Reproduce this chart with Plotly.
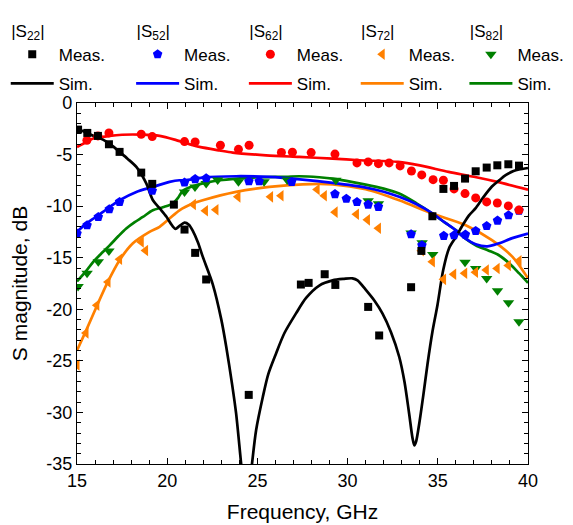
import plotly.graph_objects as go

# ---------------- data ----------------
s22_meas_f = [15.06, 15.57, 16.16, 16.77, 17.36, 18.56, 19.17, 20.37, 20.96, 21.55, 22.16, 24.52,
              27.41, 27.84, 28.73, 29.32, 31.14, 31.75, 33.52, 34.09, 34.7, 35.31, 35.9, 36.51,
              37.1, 37.71, 38.3, 38.91, 39.5]
s22_meas_db = [-2.58, -2.9, -3.19, -4.0, -4.74, -6.75, -7.84, -9.85, -12.27, -14.53, -17.11, -28.3,
               -17.6, -17.44, -16.6, -17.64, -19.77, -22.54, -17.86, -14.34, -10.98, -8.33, -8.04,
               -7.33, -6.62, -6.26, -6.04, -5.94, -6.07]
s22_sim_f = [15.0, 15.5, 16.0, 16.44, 17.0, 17.36, 17.8, 18.29, 18.84, 19.2, 19.58, 19.95, 20.2,
             20.45, 20.7, 20.96, 21.2, 21.42, 21.7, 21.97, 22.53, 23.0, 23.27, 23.6, 23.82, 24.1,
             24.4, 24.7, 24.93, 25.3, 25.6, 26.03, 26.5, 27.14, 27.7, 28.43, 29.17, 29.8, 30.27,
             30.55, 31.0, 31.5, 31.93, 32.4, 32.86, 33.15, 33.41, 33.6, 33.7, 33.8, 33.97, 34.2,
             34.43, 34.7, 34.98, 35.3, 35.62, 36.0, 36.36, 36.73, 37.1, 37.5, 38.0, 38.4, 38.76,
             39.2, 39.5, 40.0]
s22_sim_db = [-2.5, -2.85, -3.25, -3.55, -4.2, -4.74, -5.4, -6.2, -7.8, -9.4, -10.2, -11.0, -11.7,
              -12.2, -11.9, -11.6, -11.8, -12.4, -13.5, -14.9, -17.6, -21.0, -23.6, -27.3, -30.1,
              -35.0, -40.0, -35.0, -31.7, -28.5, -26.3, -24.3, -22.3, -20.4, -18.9, -17.7, -17.2,
              -17.05, -17.0, -17.2, -18.1, -19.2, -20.4, -22.2, -24.6, -27.0, -30.1, -32.5, -33.2,
              -32.8, -31.1, -28.3, -25.3, -22.2, -19.6, -16.2, -14.1, -13.0, -11.9, -10.9, -10.2,
              -9.2, -8.1, -7.5, -7.0, -6.6, -6.45, -6.3]

s52_meas_f = [15.0, 15.56, 16.18, 16.79, 17.36, 19.17, 20.96, 21.55, 22.16, 24.53, 25.1, 26.9,
              29.3, 29.93, 30.52, 31.14, 31.71, 33.52, 34.12, 35.33, 35.9, 36.53, 37.1, 37.71,
              38.31, 38.92, 39.5]
s52_meas_db = [-12.66, -11.85, -11.05, -10.3, -9.59, -8.5, -7.7, -7.38, -7.3, -7.58, -7.58, -7.65,
               -8.83, -9.28, -9.6, -9.85, -10.07, -12.72, -13.8, -12.88, -12.82, -12.75, -12.4,
               -11.92, -11.4, -10.88, -10.43]
s52_sim_f = [15.0, 15.5, 16.0, 16.44, 17.0, 17.36, 18.29, 19.2, 20.13, 20.68, 21.0, 21.97, 23.82,
             25.66, 27.5, 29.17, 31.01, 32.0, 32.86, 33.8, 34.7, 35.4, 35.99, 36.5, 37.1, 37.74,
             38.39, 39.13, 40.0]
s52_sim_db = [-12.5, -11.7, -11.1, -10.56, -9.85, -9.43, -8.62, -8.14, -7.65, -7.49, -7.5, -7.23,
              -7.1, -7.17, -7.43, -7.75, -8.2, -8.6, -9.1, -9.8, -10.7, -11.6, -12.33, -13.1,
              -13.69, -13.9, -13.6, -13.1, -12.66]

s62_meas_f = [15.55, 16.16, 16.77, 18.56, 19.17, 20.96, 21.55, 22.95, 23.95, 24.54, 26.33, 26.94,
              27.98, 29.3, 30.52, 31.14, 31.71, 32.3, 32.91, 33.54, 34.11, 34.74, 35.31, 35.9,
              36.51, 37.1, 37.71, 38.3, 38.91, 39.5]
s62_meas_db = [-3.61, -3.19, -2.9, -3.03, -3.26, -3.74, -3.77, -4.1, -4.49, -4.1, -4.8, -4.77,
               -4.81, -4.95, -5.81, -5.71, -5.88, -5.81, -6.1, -6.59, -6.97, -7.43, -7.49, -8.33,
               -8.78, -9.2, -9.59, -9.69, -9.98, -10.37]
s62_sim_f = [15.0, 15.5, 15.9, 16.81, 17.5, 18.56, 19.58, 20.5, 21.42, 21.79, 22.9, 23.63, 25.48,
             27.32, 29.17, 30.64, 32.8, 34.0, 35.6, 37.0, 38.3, 40.0]
s62_sim_db = [-4.26, -3.8, -3.45, -3.19, -3.08, -3.07, -3.19, -3.6, -4.1, -4.26, -4.6, -4.81,
              -5.07, -5.23, -5.39, -5.55, -5.71, -6.05, -6.68, -7.15, -7.65, -8.4]

s72_meas_f = [15.0, 15.5, 16.1, 16.72, 17.36, 18.56, 18.8, 21.45, 22.12, 22.7, 23.92, 25.73, 26.31,
              28.31, 28.71, 29.31, 30.49, 31.1, 31.71, 34.09, 34.7, 35.32, 35.88, 36.49, 37.09,
              37.69, 38.29, 38.91, 39.5]
s72_meas_db = [-25.4, -22.3, -19.6, -17.35, -15.15, -13.47, -14.3, -9.85, -10.45, -10.35, -9.1,
               -9.1, -8.99, -8.38, -8.99, -10.58, -10.79, -11.33, -12.15, -14.32, -15.4, -17.1,
               -16.6, -16.5, -16.4, -16.2, -16.05, -15.75, -15.3]
s72_sim_f = [15.0, 15.52, 16.07, 16.72, 17.36, 18.1, 19.02, 19.58, 20.13, 20.68, 21.42, 21.97,
             23.82, 25.66, 27.5, 29.17, 31.0, 32.86, 34.7, 36.55, 38.0, 39.13, 40.0]
s72_sim_db = [-24.0, -22.0, -19.8, -17.3, -15.24, -13.6, -12.5, -12.0, -11.2, -10.4, -9.75, -9.43,
              -8.62, -8.14, -7.88, -7.88, -8.36, -9.43, -10.72, -11.85, -13.3, -14.9, -17.0]

s82_meas_f = [15.06, 15.56, 16.18, 16.77, 20.96, 21.54, 22.16, 22.8, 23.95, 25.37, 26.65, 29.35,
              31.14, 31.71, 33.52, 34.13, 34.72, 36.51, 37.1, 37.71, 38.31, 38.92, 39.5]
s82_meas_db = [-17.78, -16.5, -15.4, -14.35, -8.62, -8.14, -7.81, -7.46, -7.64, -7.64, -7.46,
               -7.5, -9.47, -9.78, -12.6, -13.56, -14.68, -15.45, -16.05, -17.02, -18.2, -19.36,
               -21.2]
s82_sim_f = [15.0, 15.5, 15.9, 16.4, 16.81, 17.3, 17.73, 18.2, 18.65, 19.2, 19.76, 20.3, 20.6,
             20.87, 21.6, 22.2, 22.9, 24.74, 26.58, 27.32, 28.43, 29.17, 31.0, 32.0, 32.86, 33.8,
             34.7, 35.4, 36.0, 36.5, 37.1, 37.8, 38.39, 39.0, 39.5, 40.0]
s82_sim_db = [-17.3, -16.3, -15.4, -14.5, -13.8, -12.9, -12.17, -11.55, -11.05, -10.4, -10.1,
              -9.75, -9.2, -8.5, -7.97, -7.7, -7.49, -7.23, -7.15, -7.1, -7.2, -7.33, -7.91, -8.3,
              -8.78, -9.7, -10.72, -11.6, -12.33, -13.1, -13.79, -14.3, -14.76, -15.6, -16.5,
              -17.44]

y_tick_vals = [0, -5, -10, -15, -20, -25, -30, -35]
y_tick_text = ["0", "-5", "-10", "-15", "-20", "-25", "-30", "-35"]
x_tick_vals = [15, 20, 25, 30, 35, 40]

series = [
    ("22", "\u2009|S<sub>22</sub>|", "black", "square", 8, s22_meas_f, s22_meas_db, s22_sim_f, s22_sim_db),
    ("52", "\u2009|S<sub>52</sub>|", "#0000ff", "pentagon", 10, s52_meas_f, s52_meas_db, s52_sim_f, s52_sim_db),
    ("62", "\u2009|S<sub>62</sub>|", "#ff0000", "circle", 9, s62_meas_f, s62_meas_db, s62_sim_f, s62_sim_db),
    ("72", "\u2009|S<sub>72</sub>|", "#ff8000", "triangle-left", 10, s72_meas_f, s72_meas_db, s72_sim_f, s72_sim_db),
    ("82", "\u2009|S<sub>82</sub>|", "#008000", "triangle-down", 10, s82_meas_f, s82_meas_db, s82_sim_f, s82_sim_db),
]
legend_x = [-0.158, 0.12, 0.370, 0.618, 0.859]

FONT = "Liberation Sans, Arial, sans-serif"
fig = go.Figure()
order = [4, 3, 1, 2, 0]
for i in order:
    key, name, col, sym, msize, mf, mdb, sf, sdb = series[i]
    leg = "legend" if i == 0 else f"legend{i+1}"
    fig.add_trace(go.Scatter(x=sf, y=sdb, mode="lines", name="Sim.", legend=leg,
                             legendgroup="sim" + key,
                             line=dict(color=col, width=2.7, shape="spline", smoothing=0.8),
                             legendrank=2))
for i in order:
    key, name, col, sym, msize, mf, mdb, sf, sdb = series[i]
    leg = "legend" if i == 0 else f"legend{i+1}"
    fig.add_trace(go.Scatter(x=mf, y=mdb, mode="markers", name="Meas.", legend=leg,
                             legendgroup="meas" + key,
                             marker=dict(color=col, symbol=sym, size=msize, line=dict(width=0)),
                             cliponaxis=True, legendrank=1))

legends = {}
for i, (key, name, *_rest) in enumerate(series):
    lkey = "legend" if i == 0 else f"legend{i+1}"
    legends[lkey] = dict(
        x=legend_x[i], y=1.245, xanchor="left", yanchor="top", orientation="v",
        bgcolor="rgba(0,0,0,0)", borderwidth=0, traceorder="grouped",
        title=dict(text=name, side="top", font=dict(family=FONT, size=17, color="black")),
        font=dict(family=FONT, size=17, color="black"),
        itemwidth=43, tracegroupgap=4,
    )

fig.update_layout(
    width=573, height=525,
    margin=dict(l=69, r=53, t=95, b=69, autoexpand=False),
    paper_bgcolor="white", plot_bgcolor="white",
    font=dict(family=FONT, size=17, color="black"),
    showlegend=True,
    **legends,
)
fig.update_xaxes(
    range=[15, 40], tickvals=x_tick_vals, ticks="inside", ticklen=6, tickwidth=1.3,
    tickcolor="black", showline=True, linecolor="black", linewidth=1.4, mirror="allticks",
    showgrid=False, zeroline=False, tickfont=dict(family=FONT, size=18),
    minor=dict(dtick=1, ticks="inside", ticklen=3.5, tickwidth=1.1, tickcolor="black"),
    title=dict(text="Frequency, GHz", font=dict(family=FONT, size=21), standoff=14),
)
fig.update_yaxes(
    range=[-35, 0], tickvals=y_tick_vals, ticktext=y_tick_text, ticks="inside", ticklen=6,
    tickwidth=1.3, tickcolor="black", showline=True, linecolor="black", linewidth=1.4,
    mirror="allticks", showgrid=False, zeroline=False, tickfont=dict(family=FONT, size=18),
    minor=dict(dtick=1, ticks="inside", ticklen=3.5, tickwidth=1.1, tickcolor="black"),
    title=dict(text="S magnitude, dB", font=dict(family=FONT, size=21), standoff=15),
)
fig.write_html("out.html")
